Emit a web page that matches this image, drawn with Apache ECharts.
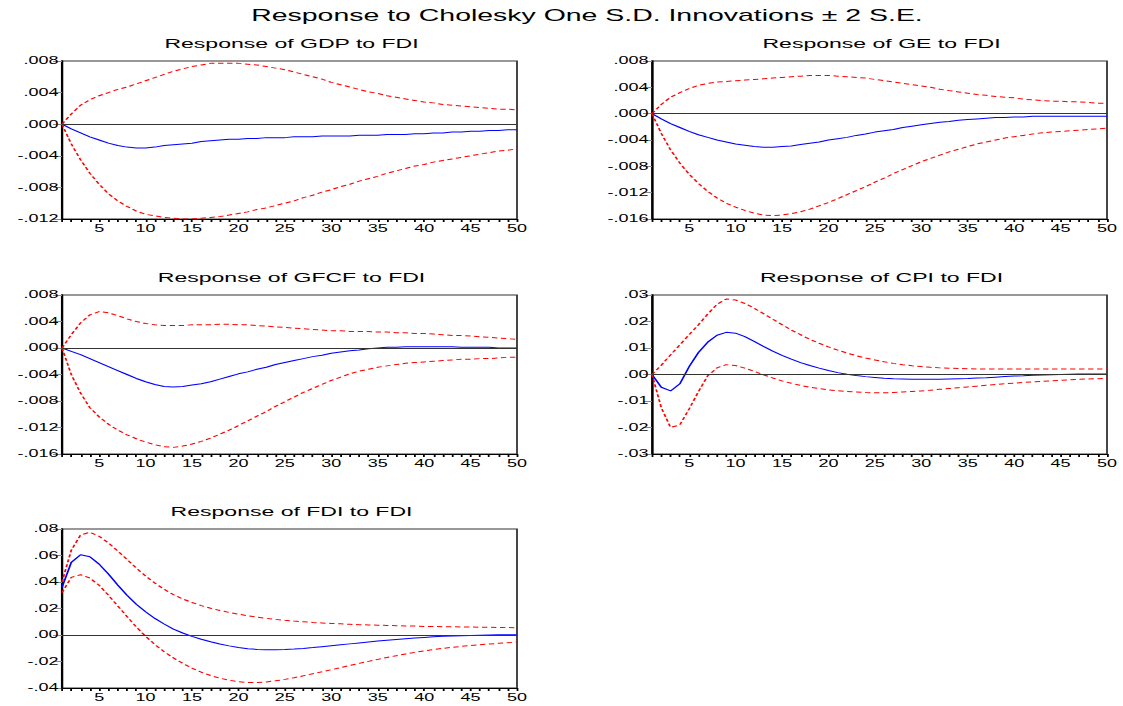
<!DOCTYPE html>
<html>
<head>
<meta charset="utf-8">
<script src="https://cdn.jsdelivr.net/npm/echarts@6/dist/echarts.min.js"></script>
<style>
  html, body { margin: 0; padding: 0; background: #fff; overflow: hidden; }
  /* the reference graph is stretched sideways, so draw narrow and stretch */
  #chart { width: 623.9px; height: 706px; transform: scaleX(1.8); transform-origin: 0 0; }
</style>
</head>
<body>
<div id="chart"></div>
<script>
const periods = Array.from({ length: 50 }, (_, i) => String(i + 1));

const mainTitle = 'Response to Cholesky One S.D. Innovations \u00b1 2 S.E.';
const panelTitles = ['Response of GDP to FDI', 'Response of GE to FDI', 'Response of GFCF to FDI',
  'Response of CPI to FDI', 'Response of FDI to FDI'];

const gdpMean = [0, -.0006, -.0011, -.0016, -.0020, -.0024, -.0027, -.0029, -.0030, -.0030,
  -.0029, -.0027, -.0026, -.0025, -.0024, -.0022, -.0021, -.0020, -.0019, -.0019,
  -.0018, -.0018, -.0017, -.0017, -.0017, -.0016, -.0016, -.0016, -.0015, -.0015,
  -.0015, -.0015, -.0014, -.0014, -.0014, -.0013, -.0013, -.0013, -.0012, -.0012,
  -.0011, -.0011, -.0010, -.0010, -.0009, -.0009, -.0008, -.0008, -.0007, -.0007];
const gdpUpper = [0, .0013, .0024, .0031, .0036, .0040, .0044, .0047, .0051, .0055,
  .0059, .0063, .0067, .0070, .0073, .0075, .0077, .0077, .0077, .0077,
  .0076, .0075, .0073, .0071, .0069, .0066, .0063, .0060, .0057, .0053,
  .0050, .0047, .0044, .0041, .0039, .0036, .0034, .0032, .0030, .0028,
  .0027, .0025, .0024, .0023, .0022, .0021, .0020, .0019, .0019, .0018];
const gdpLower = [0, -.0025, -.0045, -.0062, -.0076, -.0088, -.0097, -.0104, -.0110, -.0114,
  -.0116, -.0118, -.0119, -.0120, -.0120, -.0119, -.0118, -.0117, -.0115, -.0113,
  -.0111, -.0108, -.0106, -.0103, -.0100, -.0097, -.0093, -.0090, -.0086, -.0083,
  -.0079, -.0076, -.0072, -.0069, -.0066, -.0062, -.0059, -.0056, -.0053, -.0051,
  -.0048, -.0046, -.0044, -.0042, -.0040, -.0038, -.0036, -.0034, -.0033, -.0031];

const geMean = [0, -.0008, -.0015, -.0021, -.0027, -.0032, -.0036, -.0040, -.0043, -.0046,
  -.0048, -.0050, -.0051, -.0051, -.0050, -.0049, -.0047, -.0045, -.0043, -.0040,
  -.0038, -.0036, -.0033, -.0031, -.0028, -.0026, -.0024, -.0021, -.0019, -.0017,
  -.0015, -.0013, -.0012, -.0010, -.0009, -.0008, -.0007, -.0006, -.0006, -.0005,
  -.0005, -.0004, -.0004, -.0004, -.0004, -.0004, -.0004, -.0004, -.0004, -.0004];
const geUpper = [0, .0014, .0025, .0032, .0038, .0043, .0046, .0048, .0049, .0050,
  .0051, .0052, .0053, .0054, .0055, .0056, .0057, .0058, .0058, .0058,
  .0057, .0056, .0055, .0054, .0052, .0050, .0048, .0046, .0044, .0042,
  .0040, .0037, .0035, .0033, .0031, .0029, .0028, .0026, .0025, .0024,
  .0022, .0021, .0020, .0019, .0019, .0018, .0018, .0017, .0016, .0016];
const geLower = [0, -.0030, -.0055, -.0075, -.0092, -.0106, -.0118, -.0128, -.0136, -.0142,
  -.0147, -.0151, -.0154, -.0155, -.0154, -.0152, -.0149, -.0145, -.0140, -.0135,
  -.0129, -.0123, -.0117, -.0111, -.0104, -.0098, -.0091, -.0085, -.0079, -.0073,
  -.0068, -.0063, -.0058, -.0054, -.0050, -.0046, -.0043, -.0040, -.0037, -.0035,
  -.0033, -.0031, -.0029, -.0028, -.0027, -.0026, -.0025, -.0024, -.0023, -.0022];

const gfcfMean = [0, -.0005, -.0010, -.0016, -.0022, -.0028, -.0034, -.0040, -.0046, -.0051,
  -.0055, -.0058, -.0059, -.0058, -.0056, -.0054, -.0051, -.0047, -.0043, -.0039,
  -.0036, -.0032, -.0029, -.0025, -.0022, -.0019, -.0016, -.0013, -.0011, -.0008,
  -.0006, -.0004, -.0003, -.0001, .0000, .0001, .0001, .0002, .0002, .0002,
  .0002, .0002, .0002, .0001, .0001, .0001, .0001, .0000, .0000, .0000];
const gfcfUpper = [0, .0020, .0038, .0050, .0055, .0053, .0049, .0044, .0040, .0037,
  .0035, .0034, .0034, .0034, .0035, .0035, .0035, .0036, .0036, .0035,
  .0035, .0034, .0033, .0032, .0031, .0030, .0029, .0028, .0027, .0026,
  .0026, .0025, .0025, .0025, .0024, .0024, .0023, .0023, .0022, .0022,
  .0021, .0020, .0019, .0019, .0018, .0017, .0016, .0015, .0014, .0013];
const gfcfLower = [0, -.0040, -.0068, -.0090, -.0104, -.0115, -.0124, -.0131, -.0137, -.0142,
  -.0146, -.0149, -.0150, -.0148, -.0145, -.0141, -.0136, -.0130, -.0124, -.0117,
  -.0110, -.0103, -.0096, -.0088, -.0081, -.0074, -.0067, -.0061, -.0055, -.0049,
  -.0044, -.0039, -.0035, -.0032, -.0029, -.0027, -.0025, -.0023, -.0022, -.0021,
  -.0020, -.0019, -.0018, -.0017, -.0017, -.0016, -.0016, -.0015, -.0014, -.0014];

const cpiMean = [0, -.0048, -.0062, -.0035, .0030, .0083, .0122, .0148, .0159, .0156,
  .0143, .0125, .0106, .0088, .0072, .0058, .0045, .0034, .0024, .0015,
  .0007, .0001, -.0004, -.0008, -.0011, -.0014, -.0016, -.0017, -.0018, -.0018,
  -.0018, -.0018, -.0017, -.0016, -.0015, -.0013, -.0012, -.0010, -.0008, -.0006,
  -.0005, -.0003, -.0002, -.0001, .0000, .0001, .0002, .0002, .0002, .0002];
const cpiUpper = [0, .0035, .0074, .0112, .0150, .0188, .0228, .0265, .0285, .0281,
  .0268, .0250, .0230, .0209, .0188, .0168, .0150, .0133, .0118, .0104,
  .0092, .0081, .0071, .0062, .0055, .0048, .0042, .0037, .0033, .0030,
  .0027, .0025, .0024, .0023, .0022, .0021, .0021, .0021, .0021, .0021,
  .0021, .0021, .0021, .0021, .0021, .0021, .0021, .0021, .0021, .0021];
const cpiLower = [0, -.0125, -.0200, -.0190, -.0130, -.0065, -.0005, .0025, .0037, .0034,
  .0024, .0012, -.0001, -.0013, -.0024, -.0033, -.0041, -.0048, -.0053, -.0058,
  -.0061, -.0064, -.0066, -.0068, -.0069, -.0069, -.0068, -.0066, -.0064, -.0062,
  -.0059, -.0056, -.0053, -.0050, -.0047, -.0044, -.0041, -.0038, -.0035, -.0033,
  -.0030, -.0028, -.0026, -.0024, -.0022, -.0020, -.0018, -.0017, -.0016, -.0015];

const fdiMean = [.0360, .0548, .0605, .0590, .0535, .0460, .0378, .0300, .0232, .0175,
  .0125, .0083, .0045, .0015, -.0010, -.0032, -.0051, -.0068, -.0082, -.0094,
  -.0103, -.0109, -.0112, -.0112, -.0110, -.0106, -.0101, -.0095, -.0088, -.0081,
  -.0074, -.0067, -.0060, -.0053, -.0046, -.0040, -.0034, -.0028, -.0023, -.0018,
  -.0014, -.0010, -.0007, -.0005, -.0003, -.0001, .0000, .0001, .0001, .0002];
const fdiUpper = [.0400, .0640, .0755, .0775, .0745, .0695, .0635, .0570, .0505, .0445,
  .0392, .0345, .0305, .0272, .0245, .0222, .0202, .0185, .0170, .0157,
  .0145, .0135, .0126, .0118, .0111, .0105, .0100, .0095, .0091, .0087,
  .0084, .0081, .0078, .0076, .0074, .0072, .0070, .0068, .0067, .0065,
  .0064, .0063, .0062, .0061, .0060, .0059, .0058, .0057, .0056, .0055];
const fdiLower = [.0320, .0435, .0455, .0430, .0375, .0300, .0220, .0140, .0060, -.0010,
  -.0072, -.0126, -.0173, -.0214, -.0250, -.0281, -.0306, -.0326, -.0341, -.0352,
  -.0358, -.0358, -.0354, -.0346, -.0335, -.0322, -.0308, -.0293, -.0278, -.0262,
  -.0246, -.0230, -.0214, -.0199, -.0184, -.0170, -.0156, -.0143, -.0131, -.0120,
  -.0110, -.0101, -.0093, -.0086, -.0080, -.0074, -.0068, -.0063, -.0058, -.0053];

const meanSeries = [gdpMean, geMean, gfcfMean, cpiMean, fdiMean];
const upperSeries = [gdpUpper, geUpper, gfcfUpper, cpiUpper, fdiUpper];
const lowerSeries = [gdpLower, geLower, gfcfLower, cpiLower, fdiLower];
const yMin = [-0.012, -0.016, -0.016, -0.03, -0.04];
const yMax = [0.008, 0.008, 0.008, 0.03, 0.08];
const yStep = [0.004, 0.004, 0.004, 0.01, 0.02];
const yDecimals = [3, 3, 3, 2, 2];

// layout, in reference pixels: [left, top, width, height]
const S = 1.8;
const boxes = [
  [62, 61, 455, 158],
  [652, 61, 455, 158],
  [62, 295, 455, 159],
  [652, 295, 455, 159],
  [62, 529, 455, 159]
];
const font = 'Liberation Sans';

const chart = echarts.init(document.getElementById('chart'), null, { renderer: 'svg' });

const grids = boxes.map(b => ({
  left: b[0] / S, top: b[1], width: b[2] / S, height: b[3],
  show: true, borderColor: '#333', borderWidth: 1, backgroundColor: 'transparent'
}));

const titles = [{
  text: mainTitle, left: 587 / S, top: 8, textAlign: 'center', padding: 0,
  textStyle: { fontFamily: font, fontSize: 15.8, fontWeight: 'normal', color: '#000' }
}].concat(boxes.map((b, i) => ({
  text: panelTitles[i], left: (b[0] + b[2] / 2 + 2) / S, top: b[1] - 24, textAlign: 'center', padding: 0,
  textStyle: { fontFamily: font, fontSize: 12.8, fontWeight: 'normal', color: '#000' }
})));

const xAxes = boxes.map((b, i) => ({
  type: 'category', gridIndex: i, data: periods, boundaryGap: false,
  axisLine: { onZero: false, lineStyle: { color: '#000', width: 1 } },
  axisTick: { interval: 0, length: 3, lineStyle: { color: '#000' } },
  axisLabel: {
    interval: (idx, v) => Number(v) % 5 === 0,
    fontFamily: font, fontSize: 10, color: '#000', margin: 5
  },
  splitLine: { show: false }
}));

const yAxes = boxes.map((b, i) => ({
  type: 'value', gridIndex: i, min: yMin[i], max: yMax[i], interval: yStep[i],
  axisLine: { show: true, lineStyle: { color: '#000', width: 1.3 } },
  axisTick: { show: true, length: 5, lineStyle: { color: '#888' } },
  axisLabel: {
    fontFamily: font, fontSize: 10, color: '#000', margin: 2,
    formatter: v => v.toFixed(yDecimals[i]).replace('0.', '.')
  },
  splitLine: { show: false }
}));

const series = [];
boxes.forEach((b, i) => {
  series.push({
    type: 'line', xAxisIndex: i, yAxisIndex: i, data: meanSeries[i],
    showSymbol: false, lineStyle: { color: '#0000ff', width: 1 }, z: 3,
    markLine: {
      silent: true, symbol: 'none', label: { show: false },
      lineStyle: { color: '#333', width: 1, type: 'solid' },
      data: [{ yAxis: 0 }]
    }
  });
  [upperSeries[i], lowerSeries[i]].forEach(d => {
    series.push({
      type: 'line', xAxisIndex: i, yAxisIndex: i, data: d,
      showSymbol: false, z: 4,
      lineStyle: { color: '#ff0000', width: 1, type: [3, 2] }
    });
  });
});

chart.setOption({
  animation: false,
  backgroundColor: '#fff',
  title: titles,
  grid: grids,
  xAxis: xAxes,
  yAxis: yAxes,
  series: series
});
</script>
</body>
</html>
